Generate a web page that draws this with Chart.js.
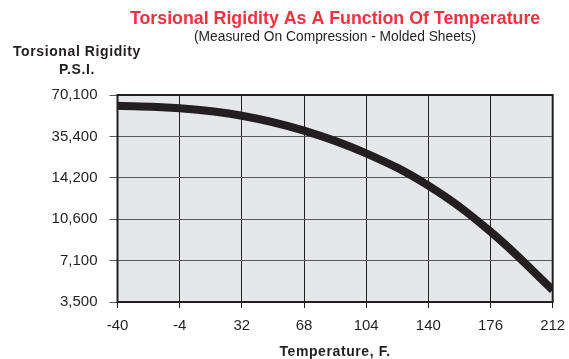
<!DOCTYPE html>
<html>
<head>
<meta charset="utf-8">
<script src="https://cdn.jsdelivr.net/npm/chart.js@4.4.1/dist/chart.umd.min.js"></script>
<style>
    html, body { margin: 0; padding: 0; background: #ffffff; }
    #wrap { width: 569px; height: 359px; position: relative; }
</style>
</head>
<body>
<div id="wrap"><canvas id="rigidityChart"></canvas></div>
<script>
// temperature, F. (x axis)
const temperatures = [-40, -4, 32, 68, 104, 140, 176, 212];
// y axis tick labels, bottom to top (evenly spaced on the original chart)
const rigidityLabels = ["3,500", "7,100", "10,600", "14,200", "35,400", "70,100"];
// curve position, in y tick steps (0 = 3,500 ... 5 = 70,100)
const rigiditySteps = [4.74, 4.68, 4.50, 4.14, 3.59, 2.81, 1.70, 0.29];

const chartTitle = "Torsional Rigidity As A Function Of Temperature";
const chartSubtitle = "(Measured On Compression - Molded Sheets)";
const yTitleLines = ["Torsional Rigidity", "P.S.I."];
const xTitle = "Temperature, F.";

const FONT = "'Liberation Sans', Arial, Helvetica, sans-serif";

const plotBackground = {
    id: "plotBackground",
    beforeDraw(chart) {
        const { ctx, chartArea } = chart;
        ctx.save();
        ctx.fillStyle = "#e6e7e9";
        ctx.fillRect(chartArea.left, chartArea.top, chartArea.width, chartArea.height);
        ctx.restore();
    },
    afterDraw(chart) {
        const { ctx, chartArea } = chart;
        ctx.save();
        ctx.strokeStyle = "#231f20";
        ctx.lineWidth = 2;
        ctx.strokeRect(chartArea.left, chartArea.top, chartArea.width, chartArea.height);
        ctx.restore();
    }
};

const chartTexts = {
    id: "chartTexts",
    afterDraw(chart) {
        const { ctx, chartArea } = chart;
        const cx = (chartArea.left + chartArea.right) / 2;
        ctx.save();
        ctx.textAlign = "center";
        ctx.textBaseline = "middle";

        ctx.fillStyle = "#ee3340";
        ctx.font = "bold 17.8px " + FONT;
        ctx.fillText(chartTitle, cx, 19);

        ctx.fillStyle = "#231f20";
        ctx.font = "13.8px " + FONT;
        ctx.fillText(chartSubtitle, cx, 37);

        // bold labels are a bit letter-spaced on the original
        ctx.letterSpacing = "0.6px";
        ctx.font = "bold 14px " + FONT;
        ctx.fillText(yTitleLines[0], 77, 52);
        ctx.fillText(yTitleLines[1], 77, 70);

        ctx.fillText(xTitle, cx, 352);
        ctx.restore();
    }
};

const ctx = document.getElementById("rigidityChart").getContext("2d");
new Chart(ctx, {
    type: "line",
    data: {
        labels: temperatures,
        datasets: [{
            label: "Torsional Rigidity",
            data: temperatures.map((t, i) => ({ x: t, y: rigiditySteps[i] })),
            borderColor: "#231f20",
            borderWidth: 8,
            pointRadius: 0,
            fill: false,
            tension: 0.4,
            clip: 0
        }]
    },
    options: {
        responsive: true,
        maintainAspectRatio: false,
        animation: false,
        layout: {
            padding: { top: 95, right: 16.3, bottom: 0, left: 0 }
        },
        plugins: {
            legend: { display: false },
            tooltip: { enabled: false }
        },
        scales: {
            x: {
                type: "linear",
                min: -40,
                max: 212,
                afterFit(scale) {
                    scale.height = 57;
                    scale.paddingLeft = 0;
                    scale.paddingRight = 0;
                },
                afterBuildTicks(scale) {
                    scale.ticks = temperatures.map(v => ({ value: v }));
                },
                ticks: {
                    color: "#231f20",
                    font: { family: FONT, size: 15 },
                    padding: 9,
                    maxRotation: 0,
                    autoSkip: false
                },
                grid: {
                    color: "#231f20",
                    lineWidth: 1,
                    tickLength: 6
                },
                border: { display: false }
            },
            y: {
                type: "linear",
                min: 0,
                max: rigidityLabels.length - 1,
                afterFit(scale) { scale.width = 117.5; },
                ticks: {
                    stepSize: 1,
                    color: "#231f20",
                    font: { family: FONT, size: 15 },
                    padding: 12,
                    callback: (value) => rigidityLabels[value]
                },
                grid: {
                    color: "#5a5a5c",
                    lineWidth: 1,
                    tickLength: 8
                },
                border: { display: false }
            }
        }
    },
    plugins: [plotBackground, chartTexts]
});
</script>
</body>
</html>
